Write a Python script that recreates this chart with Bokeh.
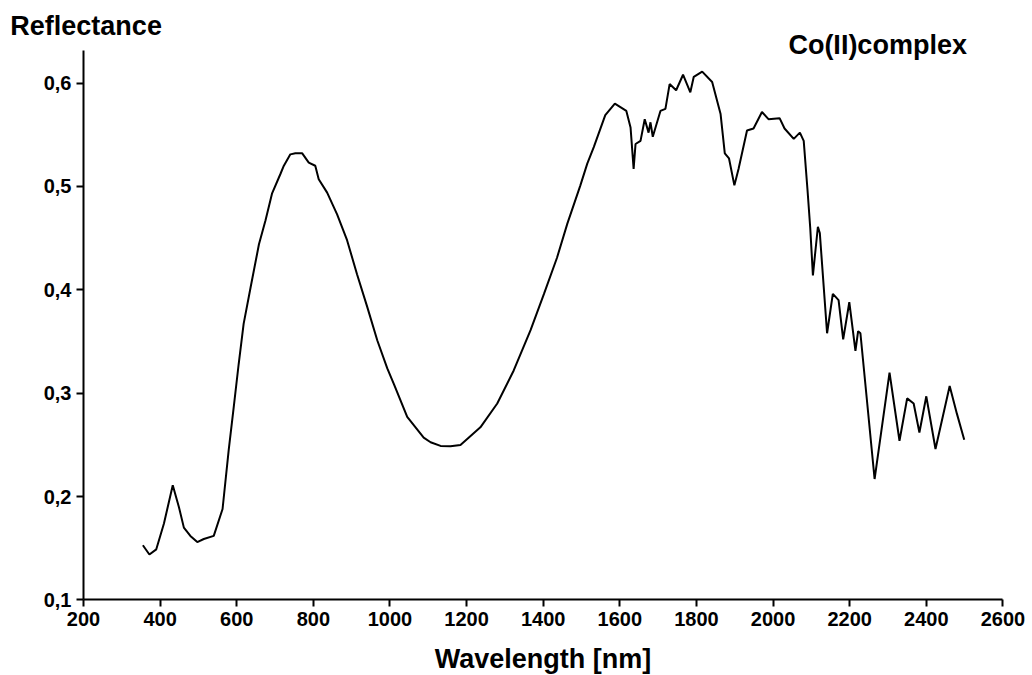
from bokeh.plotting import figure
from bokeh.models import Range1d, FixedTicker, Label
from bokeh.embed import file_html
from bokeh.resources import INLINE

wavelength = [355, 372, 390, 410, 433, 449, 462, 479, 497, 514, 540, 563, 579, 592, 605, 618,
              636, 658, 675, 692, 714, 723, 740, 753, 771, 788, 805, 814, 836, 862, 888, 914, 941,
              967, 993, 1010, 1045, 1088, 1106, 1132, 1158, 1184, 1236, 1280, 1323, 1367, 1402, 1436, 1463,
              1497, 1515, 1532, 1562, 1587, 1617, 1628, 1636, 1641, 1654, 1665, 1675, 1680, 1686,
              1706, 1719, 1730, 1747, 1765, 1784, 1793, 1815, 1841, 1863, 1874, 1885, 1899, 1910,
              1932, 1949, 1971, 1988, 2017, 2030, 2054, 2070, 2080, 2090, 2097, 2104, 2117, 2122,
              2141, 2156, 2171, 2183, 2199, 2215, 2222, 2228, 2265, 2304, 2330, 2350, 2367, 2382,
              2400, 2424, 2461, 2480, 2499]
reflectance = [0.153, 0.144, 0.149, 0.174, 0.211, 0.190, 0.170, 0.162, 0.156, 0.159, 0.162, 0.188,
               0.245, 0.286, 0.328, 0.367, 0.402, 0.444, 0.467, 0.493, 0.512, 0.520, 0.531, 0.532, 0.532,
               0.523, 0.520, 0.507, 0.494, 0.473, 0.448, 0.415, 0.383, 0.351, 0.324, 0.309, 0.277,
               0.257, 0.2526, 0.249, 0.2487, 0.250, 0.267, 0.290, 0.322, 0.361, 0.396, 0.431, 0.464, 0.501, 0.522,
               0.538, 0.569, 0.580, 0.573, 0.557, 0.517, 0.541, 0.544, 0.565, 0.552, 0.562, 0.548,
               0.573, 0.575, 0.599, 0.593, 0.608, 0.591, 0.606, 0.611, 0.601, 0.570, 0.532, 0.527,
               0.501, 0.517, 0.554, 0.556, 0.572, 0.565, 0.566, 0.556, 0.546, 0.552, 0.544, 0.496,
               0.460, 0.414, 0.461, 0.455, 0.358, 0.396, 0.390, 0.352, 0.388, 0.341, 0.360, 0.358,
               0.217, 0.320, 0.254, 0.295, 0.290, 0.262, 0.297, 0.246, 0.307, 0.280, 0.255]

x_ticks = [200, 400, 600, 800, 1000, 1200, 1400, 1600, 1800, 2000, 2200, 2400, 2600]
y_ticks = [0.1, 0.2, 0.3, 0.4, 0.5, 0.6]
y_tick_labels = ["0,1", "0,2", "0,3", "0,4", "0,5", "0,6"]

FONT = "Liberation Sans"

# frame fills the whole canvas; the axes are pinned at x=200 / y=0.1
p = figure(width=1032, height=675, output_backend="svg", toolbar_location=None,
           x_range=Range1d(-16.65, 2677.2), y_range=Range1d(0.02698, 0.6798),
           min_border=0)
p.outline_line_color = None
p.xgrid.visible = False
p.ygrid.visible = False
p.background_fill_color = "white"
p.border_fill_color = "white"

p.line(wavelength, reflectance, line_color="black", line_width=2)

xa = p.xaxis[0]
ya = p.yaxis[0]
xa.fixed_location = 0.1
ya.fixed_location = 200
xa.bounds = (200, 2600)
ya.bounds = (0.1, 0.631)

for ax in (xa, ya):
    ax.axis_line_width = 2
    ax.axis_line_color = "black"
    ax.major_tick_line_width = 2
    ax.major_tick_line_color = "black"
    ax.major_tick_out = 7
    ax.major_tick_in = 0
    ax.minor_tick_line_color = None
    ax.major_label_text_font = FONT
    ax.major_label_text_font_style = "bold"
    ax.major_label_text_font_size = "20px"
    ax.major_label_text_color = "black"
    ax.major_label_standoff = 5

xa.ticker = FixedTicker(ticks=x_ticks)
ya.ticker = FixedTicker(ticks=y_ticks)
ya.major_label_overrides = {t: l for t, l in zip(y_ticks, y_tick_labels)}
xa.axis_label = "Wavelength [nm]"
xa.axis_label_text_font = FONT
xa.axis_label_text_font_style = "bold"
xa.axis_label_text_font_size = "27px"
xa.axis_label_text_color = "black"
xa.axis_label_standoff = 15

p.add_layout(Label(x=9, y=0.6556, text="Reflectance", text_font=FONT, text_font_style="bold",
                   text_font_size="27px", text_color="black", text_baseline="alphabetic"))
p.add_layout(Label(x=2040, y=0.6363, text="Co(II)complex", text_font=FONT, text_font_style="bold",
                   text_font_size="27px", text_color="black", text_baseline="alphabetic"))

open("out.html", "w").write(file_html(p, INLINE))
